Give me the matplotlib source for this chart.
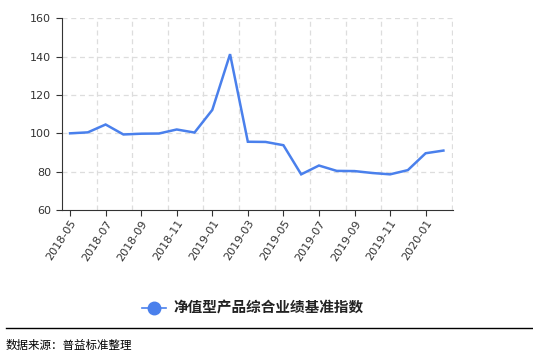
import matplotlib
matplotlib.use("Agg")
import matplotlib.pyplot as plt

plt.rcParams['font.family'] = ['Noto Sans CJK SC', 'DejaVu Sans']

months = ['2018-05', '2018-06', '2018-07', '2018-08', '2018-09', '2018-10',
          '2018-11', '2018-12', '2019-01', '2019-02', '2019-03', '2019-04',
          '2019-05', '2019-06', '2019-07', '2019-08', '2019-09', '2019-10',
          '2019-11', '2019-12', '2020-01', '2020-02']
index_values = [100.0, 100.5, 104.6, 99.4, 99.8, 99.9, 102.0, 100.4, 112.2,
                141.3, 95.6, 95.5, 93.8, 78.6, 83.2, 80.4, 80.3, 79.3,
                78.6, 80.8, 89.6, 91.0]
series_name = '净值型产品综合业绩基准指数'
source_text = '数据来源：普益标准整理'
yticks = [60, 80, 100, 120, 140, 160]

fig = plt.figure(figsize=(5.33, 3.54), dpi=100)
ax = fig.add_axes([61.7 / 533, 1 - 210 / 354, (453 - 61.7) / 533, (210 - 18.3) / 354])

x = list(range(len(months)))
line_color = '#4a80ec'
ax.plot(x, index_values, color=line_color, lw=1.8, solid_joinstyle='miter')

ax.set_xlim(-0.47, len(months) - 0.46)
ax.set_ylim(60, 160)
ax.set_yticks(yticks)
ax.set_xticks(x[::2])
ax.set_xticklabels(months[::2], rotation=57, ha='right', rotation_mode='anchor',
                   fontsize=8, color='#333333', family='DejaVu Sans')
ax.tick_params(axis='y', labelsize=8, labelcolor='#333333', length=4, color='#333333')
ax.tick_params(axis='x', length=4, color='#333333', pad=2)
for lab in ax.get_yticklabels():
    lab.set_family('DejaVu Sans')

# grid lines: horizontal at y ticks, vertical between label ticks
for yv in yticks[1:]:
    ax.axhline(yv, color='#dddddd', lw=0.9, ls=(0, (4, 3)), zorder=0)
for xv in [i + 0.5 for i in range(1, len(months), 2)]:
    ax.axvline(xv, color='#dddddd', lw=0.9, ls=(0, (4, 3)), zorder=0)

for side in ['top', 'right']:
    ax.spines[side].set_visible(False)
ax.spines['left'].set_color('#333333')
ax.spines['bottom'].set_color('#333333')

# legend
fig.lines.append(plt.Line2D([142 / 533, 166 / 533], [1 - 308 / 354] * 2,
                            transform=fig.transFigure, color=line_color, lw=1.2))
fig.lines.append(plt.Line2D([154 / 533], [1 - 308 / 354], transform=fig.transFigure,
                            marker='o', markersize=9, color=line_color, lw=0))
fig.text(173 / 533, 1 - 308 / 354, series_name, fontsize=10.5, fontweight='bold',
         color='#222222', va='center', ha='left')

# separator and source
fig.lines.append(plt.Line2D([6 / 533, 1.0], [1 - 327.7 / 354] * 2,
                            transform=fig.transFigure, color='black', lw=1))
fig.text(6 / 533, 1 - 345.5 / 354, source_text, fontsize=8.3, color='black',
         va='center', ha='left')

fig.savefig('out.png', dpi=100)
